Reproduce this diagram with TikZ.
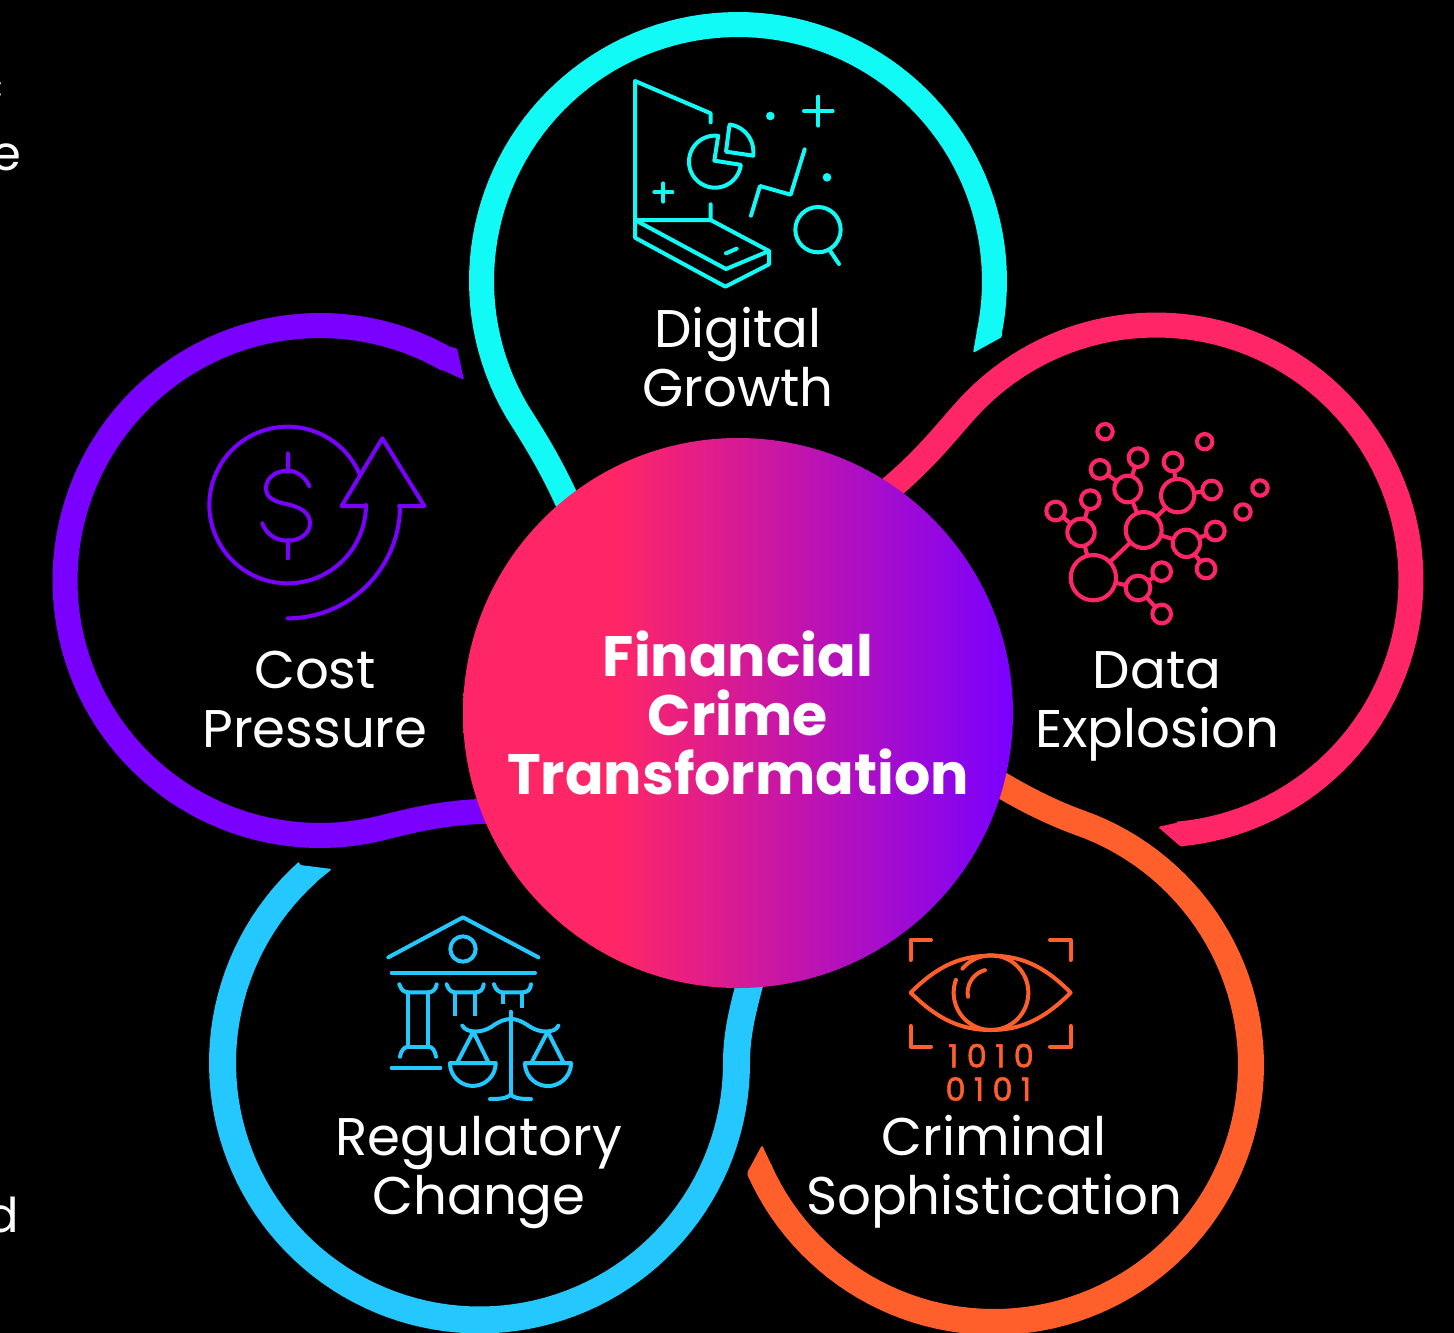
\documentclass[tikz,border=0pt]{standalone}
\usepackage{fontspec}
\setmainfont{Poppins}
\newfontfamily\digitfont[LetterSpace=26,FakeBold=1.6]{Poppins}
\definecolor{ccyan}{HTML}{12FAF5}
\definecolor{cpink}{HTML}{FF2667}
\definecolor{cviolet}{HTML}{7A00FF}
\definecolor{cblue}{HTML}{24C8FF}
\definecolor{corange}{HTML}{FF5F2A}
\pgfdeclarehorizontalshading{hubshade}{100bp}{
  color(0bp)=(cpink); color(39bp)=(cpink); color(75bp)=(cviolet); color(100bp)=(cviolet)}
\newcommand{\parc}[5]{plot[domain=#4:#5,samples=90]({#1+#3*cos(\x)},{#2+#3*sin(\x)})}
\tikzset{
  ring/.style={line width=25pt,line cap=butt,line join=round},
  tipshape/.style={rounded corners=1.5pt},
  icon/.style={line width=4pt,line cap=round,line join=round},
  label/.style={text=white,anchor=base,font=\fontsize{53}{59}\selectfont,inner sep=0pt},
  hublabel/.style={text=white,anchor=base,font=\fontsize{57}{59}\selectfont\bfseries,inner sep=0pt},
  edgetext/.style={text=white,font=\fontsize{48}{55}\selectfont,inner sep=0pt,anchor=base east},
  bits/.style={text=corange,font=\digitfont\fontsize{32}{33}\selectfont,inner sep=0pt},
  netnode/.style={circle,draw=cpink,fill=black,line width=4.1pt,inner sep=0pt,outer sep=0pt},
  z/.style={x=0.33333pt,y=-0.33333pt,shift={(#1)}}
}
\begin{document}
\begin{tikzpicture}[x=1pt,y=-1pt]
\useasboundingbox[fill=black] (0,0) rectangle (1454,1333);
% cut-off text at the left edge
\node[edgetext] (frag1) at (4,102) {c};
\node[edgetext] (frag2) at (21,170) {e};
\node[edgetext] (frag3) at (19,1232) {d};
% rings
\draw[ring,ccyan] \parc{738}{281}{256.5}{12}{-210.3} .. controls (530,432) and (552,465) .. (572,512);
\fill[ccyan,tipshape] ({738+269*cos(11)},{281+269*sin(11)}) -- (1002,337) -- (973,353) -- ({738+244*cos(11)},{281+244*sin(11)}) -- cycle;
\draw[ring,cpink] \parc{1156}{580}{255}{85}{-135.3} .. controls (948,428) and (928,460) .. (870,505);
\fill[cpink,tipshape] ({1156+267*cos(84)},{580+267*sin(84)}) -- (1180,846) -- (1158,827) -- ({1156+243*cos(84)},{580+243*sin(84)}) -- cycle;
\draw[ring,cviolet] \parc{320}{580.5}{255}{-60}{-283.2} .. controls (410,821) and (445,811) .. (500,811);
\fill[cviolet,tipshape] ({320+267*cos(-61)},{580.5+267*sin(-61)}) -- (457,348) -- (464,380) -- ({320+243*cos(-61)},{580.5+243*sin(-61)}) -- cycle;
\draw[line width=27pt,cblue] \parc{479.5}{1063}{257}{228}{0} .. controls (736.5,1035) and (742,1010) .. (755,965);
\fill[cblue,tipshape] ({479.5+270*cos(227)},{1063+270*sin(227)}) -- (300,865) -- (332,869) -- ({479.5+244*cos(227)},{1063+244*sin(227)}) -- cycle;
\draw[line width=26pt,corange] \parc{994}{1065}{257}{156}{-70.4} .. controls (1050,812) and (1020,797) .. (985,775);
\fill[corange,tipshape] ({994+270*cos(155)},{1065+270*sin(155)}) -- (747,1173) -- (762,1145) -- ({994+244*cos(155)},{1065+244*sin(155)}) -- cycle;
% hub
\node[circle,minimum size=550pt,inner sep=0pt,shading=hubshade] (hub) at (738,713) {};
\node[hublabel] (huba) at (738,676) {Financial};
\node[hublabel] (hubb) at (738,735) {Crime};
\node[hublabel] (hubc) at (738,794) {Transformation};
% labels
\node[label] (lab1a) at (738,347) {Digital};
\node[label] (lab1b) at (738,406) {Growth};
\node[label] (lab2a) at (1157,688) {Data};
\node[label] (lab2b) at (1157,747) {Explosion};
\node[label] (lab3a) at (315,688) {Cost};
\node[label] (lab3b) at (315,747) {Pressure};
\node[label] (lab4a) at (479,1155) {Regulatory};
\node[label] (lab4b) at (479,1214) {Change};
\node[label] (lab5a) at (994,1155) {Criminal};
\node[label] (lab5b) at (994,1214) {Sophistication};
% digital growth icon
\begin{scope}[z={620pt,-70pt}]
\draw[icon,ccyan] (272,157) -- (272,130) -- (45,33) -- (45,450) -- (272,450) -- (272,403);
\draw[icon,ccyan] (45,450) -- (318,597) -- (447,543) -- (272,450);
\draw[icon,ccyan] (45,450) -- (45,503) -- (316,650) -- (447,583) -- (447,543);
\draw[icon,ccyan] (318,550) -- (350,536);
\draw[icon,ccyan] \parc{285}{275}{78}{-83}{-353} -- (283,272) -- cycle;
\draw[icon,ccyan] (328,168) -- (318,245) -- (400,257) \parc{318}{245}{82}{8}{-82};
\draw[icon,ccyan] (130,340) -- (130,395) (103,367) -- (157,367);
\draw[icon,ccyan] (595,80) -- (595,167) (552,123) -- (638,123);
\fill[ccyan] (451,138) circle[radius=13] (621,322) circle[radius=13];
\draw[icon,ccyan] (393,437) -- (420,348) -- (512,374) -- (554,238);
\draw[icon,ccyan] (594,479) circle[radius=68] (632,545) -- (657,582);
\end{scope}
% data explosion icon
\begin{scope}[z={1030pt,-415pt}]
\foreach \n/\px/\py/\r in {a/190/488/68,b/341/345/54,c/443/242/50,d/293/222/40,e/153/352/41,f/469/385/41,g/324/519/37,
  h/324/128/28,i/210/163/28,j/429/141/28,k/545/225/28,l/77/288/28,m/181/254/28,n/556/348/28,o/528/462/28,p/395/470/28,q/395/597/28,
  r/225/50/23,s/524/80/23,t/690/219/23,u/639/291/23}
  {\pgfmathsetmacro{\dia}{2*\r/3}\node[netnode,minimum size=\dia pt] (net\n) at (\px,\py) {};}
\foreach \u/\v in {a/b,a/e,a/g,e/l,e/m,d/i,d/h,d/b,b/c,b/f,c/j,c/k,f/n,f/o,g/p,g/q}
  \draw[cpink,line width=4.1pt] (net\u) -- (net\v);
\end{scope}
% cost pressure icon
\begin{scope}[z={195pt,-420pt}]
\draw[icon,cviolet] \parc{278}{255}{235}{-23}{-360};
\draw[icon,cviolet] (513,258) -- (440,258) -- (562,55) -- (688,258) -- (612,258) \parc{278}{258}{337}{0}{90};
\draw[icon,cviolet] (278,100) -- (278,155) (278,360) -- (278,415);
\draw[icon,cviolet] (343,198) .. controls (330,170) and (305,152) .. (278,152) .. controls (240,152) and (213,175) .. (213,205) .. controls (213,235) and (240,245) .. (278,253) .. controls (320,262) and (345,280) .. (345,310) .. controls (345,340) and (315,362) .. (278,362) .. controls (245,362) and (215,345) .. (202,310);
\end{scope}
% regulatory change icon
\begin{scope}[z={375pt,-905pt}]
\draw[icon,cblue] (40,157) -- (264,37) -- (490,157);
\draw[icon,cblue] (264,132) circle[radius=38];
\draw[icon,cblue] (50,203) -- (480,203);
\draw[icon,cblue] (73,238) .. controls (78,255) and (88,262) .. (100,262) -- (160,262) .. controls (172,262) and (182,255) .. (185,238);
\draw[icon,cblue] (100,262) -- (100,425) -- (160,425) -- (160,262);
\draw[icon,cblue] (75,455) .. controls (78,437) and (88,425) .. (100,425) (160,425) .. controls (172,425) and (180,437) .. (183,455);
\draw[icon,cblue] (50,488) -- (196,488);
\draw[icon,cblue] (215,238) .. controls (220,255) and (230,262) .. (241,262) -- (300,262) .. controls (315,262) and (324,255) .. (326,238);
\draw[icon,cblue,line cap=butt] (241,262) -- (241,332) (300,262) -- (300,332);
\draw[icon,cblue] (357,238) .. controls (362,255) and (372,262) .. (383,262) -- (442,262) .. controls (457,262) and (466,255) .. (468,238);
\draw[icon,cblue,line cap=butt] (383,262) -- (383,297) (442,262) -- (442,308);
\draw[icon,cblue] (407,320) -- (407,570);
\draw[icon,cblue] (262,362) .. controls (275,385) and (320,385) .. (350,365) .. controls (370,350) and (390,342) .. (407,342) .. controls (430,342) and (445,352) .. (465,365) .. controls (495,385) and (540,385) .. (550,362);
\draw[icon,cblue] (247,472) -- (295,380) -- (340,472);
\draw[icon,cblue] (225,474) -- (362,474) \parc{293.5}{474}{68.5}{0}{180};
\draw[icon,cblue] (470,472) -- (518,380) -- (565,472);
\draw[icon,cblue] (450,474) -- (588,474) \parc{519}{474}{69}{0}{180};
\draw[icon,cblue] (345,582) .. controls (385,582) and (400,578) .. (407,568) .. controls (414,578) and (430,582) .. (468,582);
\end{scope}
% criminal sophistication icon
\begin{scope}[z={895pt,-925pt}]
\draw[icon,corange] (108,45) -- (47,45) -- (47,105);
\draw[icon,corange] (465,45) -- (527,45) -- (527,105);
\draw[icon,corange] (47,303) -- (47,365) -- (108,365);
\draw[icon,corange] (527,303) -- (527,365) -- (465,365);
\draw[icon,corange] (47,203) .. controls (130,120) and (200,92) .. (287,92) .. controls (375,92) and (445,120) .. (527,203) .. controls (445,285) and (375,315) .. (287,315) .. controls (200,315) and (130,285) .. (47,203) -- cycle;
\draw[icon,corange] \parc{288}{203}{112}{220}{560};
\draw[icon,corange] \parc{288}{203}{70}{170}{255};
\node[bits] (bits1) at (288,392) {1010};
\node[bits] (bits2) at (280,492) {0101};
\end{scope}
\end{tikzpicture}
\end{document}
